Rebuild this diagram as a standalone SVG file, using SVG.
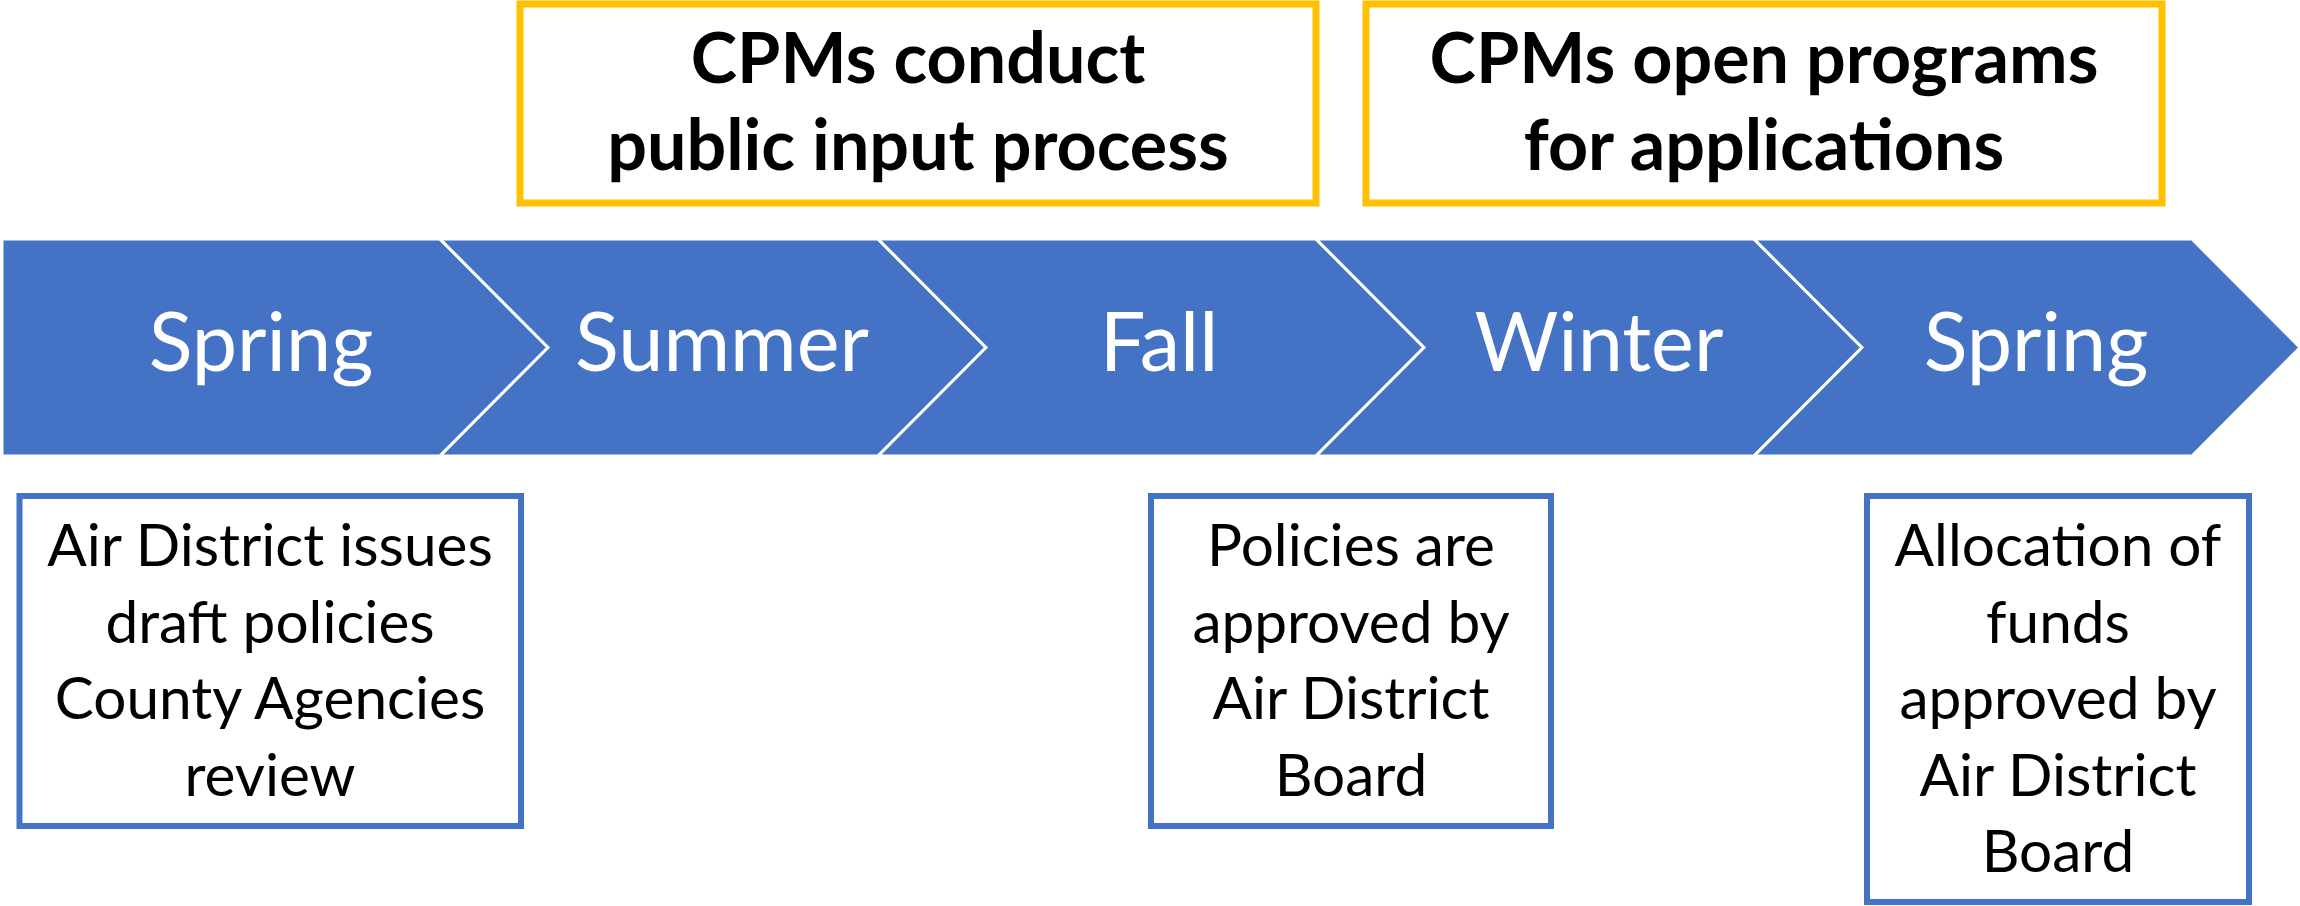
<svg xmlns="http://www.w3.org/2000/svg" width="2300" height="906" viewBox="0 0 2300 906">
<style>
.chev{fill:#4472C4;stroke:#FFFFFF;stroke-width:3;stroke-linejoin:miter}
.season{font-family:Lato,"Liberation Sans",sans-serif;font-size:81px;fill:#FFFFFF;text-anchor:middle}
.gold{fill:#FFFFFF;stroke:#FFC000;stroke-width:7}
.head{font-family:Lato,"Liberation Sans",sans-serif;font-weight:bold;font-size:70px;fill:#000000;text-anchor:middle}
.blue{fill:#FFFFFF;stroke:#4472C4;stroke-width:6}
.note{font-family:Lato,"Liberation Sans",sans-serif;font-size:58.5px;fill:#000000;text-anchor:middle}
</style>
<rect width="2300" height="906" fill="#FFFFFF"/>
<g id="timeline">
  <g id="chev-spring1"><path class="chev" d="M2,239 H440 L548,347.5 L440,456 H2 Z"/><text class="season" x="261" y="371">Spring</text></g>
  <g id="chev-summer"><path class="chev" d="M440,239 H878 L986,347.5 L878,456 H440 L548,347.5 Z"/><text class="season" x="722" y="371">Summer</text></g>
  <g id="chev-fall"><path class="chev" d="M878,239 H1316 L1424,347.5 L1316,456 H878 L986,347.5 Z"/><text class="season" x="1159" y="371">Fall</text></g>
  <g id="chev-winter"><path class="chev" d="M1316,239 H1754 L1862,347.5 L1754,456 H1316 L1424,347.5 Z"/><text class="season" x="1599" y="371">Winter</text></g>
  <g id="chev-spring2"><path class="chev" d="M1754,239 H2192 L2300,347.5 L2192,456 H1754 L1862,347.5 Z"/><text class="season" x="2036" y="371">Spring</text></g>
</g>
<g id="box-public-input">
  <rect class="gold" x="520" y="4" width="796" height="199"/>
  <text class="head" x="918" y="83">CPMs conduct</text>
  <text class="head" x="918" y="170">public input process</text>
</g>
<g id="box-open-programs">
  <rect class="gold" x="1366" y="4" width="796" height="199"/>
  <text class="head" x="1764" y="83">CPMs open programs</text>
  <text class="head" x="1764" y="170">for applications</text>
</g>
<g id="box-draft-policies">
  <rect class="blue" x="19.5" y="496" width="501.5" height="330"/>
  <text class="note" x="270" y="566">Air District issues</text>
  <text class="note" x="270" y="642.5">draft policies</text>
  <text class="note" x="270" y="719">County Agencies</text>
  <text class="note" x="270" y="795.5">review</text>
</g>
<g id="box-policies-approved">
  <rect class="blue" x="1151" y="496" width="400" height="330"/>
  <text class="note" x="1351" y="566">Policies are</text>
  <text class="note" x="1351" y="642.5">approved by</text>
  <text class="note" x="1351" y="719">Air District</text>
  <text class="note" x="1351" y="795.5">Board</text>
</g>
<g id="box-allocation">
  <rect class="blue" x="1867" y="496" width="382" height="406"/>
  <text class="note" x="2058" y="566">Allocation of</text>
  <text class="note" x="2058" y="642.5">funds</text>
  <text class="note" x="2058" y="719">approved by</text>
  <text class="note" x="2058" y="795.5">Air District</text>
  <text class="note" x="2058" y="872">Board</text>
</g>
<g id="connectors"></g>
</svg>
